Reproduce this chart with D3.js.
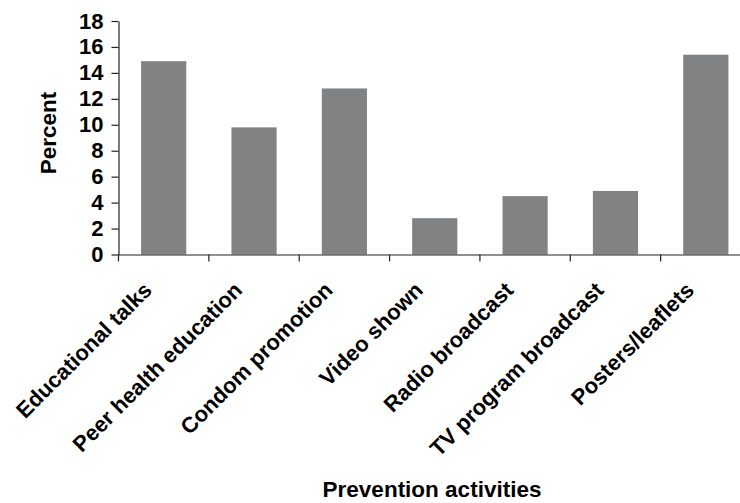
<!DOCTYPE html>
<html>
<head>
<meta charset="utf-8">
<script src="https://cdn.jsdelivr.net/npm/d3@7"></script>
<style>
  html, body { margin: 0; padding: 0; background: #fff; }
  svg { display: block; }
  text { font-family: "Liberation Sans", Arial, sans-serif; font-weight: bold; fill: #000; }
</style>
</head>
<body>
<svg id="chart" width="740" height="503"></svg>
<script>
const categories = ["Educational talks", "Peer health education", "Condom promotion", "Video shown", "Radio broadcast", "TV program broadcast", "Posters/leaflets"];
const percentValues = [14.9, 9.8, 12.8, 2.8, 4.5, 4.9, 15.4];
const yTickValues = [0, 2, 4, 6, 8, 10, 12, 14, 16, 18];
const yTitle = "Percent";
const xTitle = "Prevention activities";

const plotLeft = 118.5, plotRight = 751, plotTop = 21, plotBottom = 254.5;

const svg = d3.select("#chart");

const x = d3.scaleBand().domain(categories).range([plotLeft, plotRight]).paddingInner(0.5).paddingOuter(0.25);
const y = d3.scaleLinear().domain([0, 18]).range([plotBottom, plotTop]);
const step = x.step();

// bars
svg.append("g").selectAll("rect")
  .data(categories.map((c, i) => ({c, v: percentValues[i]})))
  .join("rect")
  .attr("x", d => x(d.c))
  .attr("y", d => y(d.v))
  .attr("width", x.bandwidth())
  .attr("height", d => y(0) - y(d.v))
  .attr("fill", "#818284");

// y axis
const yAxis = svg.append("g")
  .attr("transform", `translate(${plotLeft},0)`)
  .call(d3.axisLeft(y).tickValues(yTickValues).tickSize(7).tickSizeOuter(0).tickPadding(8).tickFormat(d3.format("d")));
yAxis.select(".domain").attr("stroke", "#222").attr("stroke-width", 1.2);
yAxis.selectAll(".tick line").attr("stroke", "#222").attr("stroke-width", 1.2);
yAxis.selectAll(".tick text").attr("font-size", 22).attr("font-family", "Liberation Sans, Arial, sans-serif").attr("font-weight", "bold").attr("fill", "#000");

// x axis
const xAxis = svg.append("g")
  .attr("transform", `translate(0,${plotBottom})`)
  .call(d3.axisBottom(x).tickSize(7).tickSizeOuter(0).tickFormat(""));
xAxis.select(".domain").attr("stroke", "#222").attr("stroke-width", 1.2);
xAxis.selectAll(".tick line").attr("stroke", "#222").attr("stroke-width", 1.2).attr("transform", `translate(${-step / 2},0)`);

// rotated category labels
svg.append("g").selectAll("text")
  .data(categories)
  .join("text")
  .attr("transform", d => `translate(${x(d) + x.bandwidth() / 2 - 10.5},${plotBottom + 37}) rotate(-45)`)
  .attr("text-anchor", "end")
  .attr("font-size", 22)
  .text(d => d);

// titles
svg.append("text")
  .attr("transform", `translate(56,133) rotate(-90)`)
  .attr("text-anchor", "middle")
  .attr("font-size", 22.5)
  .text(yTitle);

svg.append("text")
  .attr("x", 432)
  .attr("y", 497)
  .attr("text-anchor", "middle")
  .attr("font-size", 22.5)
  .text(xTitle);
</script>
</body>
</html>
